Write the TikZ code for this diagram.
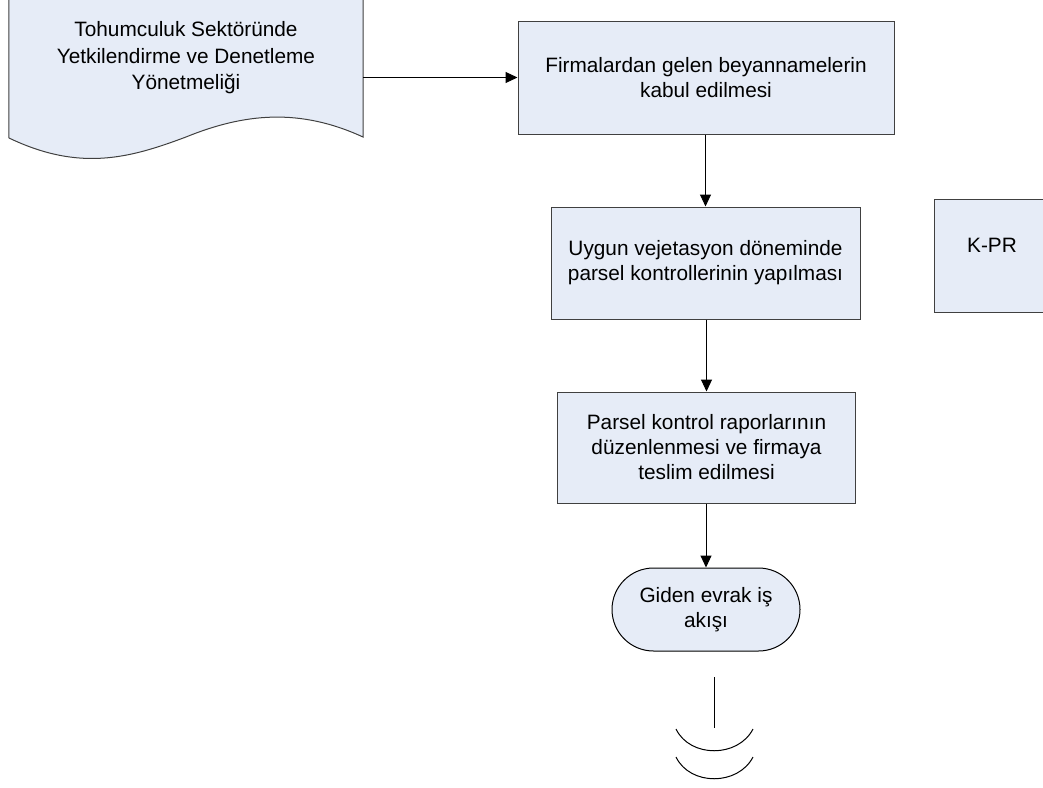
\documentclass[tikz,border=0pt]{standalone}
\usepackage{fontspec}
\setmainfont{Liberation Sans}
\usetikzlibrary{arrows.meta,shapes.misc}
\definecolor{boxfill}{RGB}{230,236,247}
\definecolor{boxline}{RGB}{64,64,64}
\tikzset{
  procbox/.style={draw=boxline, fill=boxfill, line width=1pt, align=center, inner sep=0pt,
    font=\fontsize{20.8}{25}\selectfont},
  termbox/.style={draw=black, fill=boxfill, line width=1pt, rounded rectangle, align=center, inner sep=0pt,
    font=\fontsize{20.8}{25}\selectfont},
  conn/.style={draw=black, line width=1pt, -{Triangle[length=12pt,width=11pt]}},
  plain/.style={draw=black, line width=1pt},
}
\begin{document}
\begin{tikzpicture}[x=1pt,y=-1pt]
\useasboundingbox (0,0) rectangle (1043,787);
\clip (0,0) rectangle (1043,787);
% document shape
\node[minimum width=354pt, minimum height=148pt, inner sep=0pt] (doc) at (186,64) {};
\draw[boxline, fill=boxfill, line width=1pt] (doc.north west) -- (9,138)
  .. controls (80,172) and (130,158) .. (186,137)
  .. controls (245,113) and (300,108) .. (363,137) -- (doc.north east);
\node[align=center, font=\fontsize{20.8}{26.5}\selectfont] (doctext) at (186,58)
  {Tohumculuk Sektöründe\\Yetkilendirme ve Denetleme\\Yönetmeliği};
% process boxes
\node[procbox, minimum width=376pt, minimum height=113pt] (b1) at (706,77.5)
  {Firmalardan gelen beyannamelerin\\kabul edilmesi};
\node[procbox, minimum width=309pt, minimum height=112pt] (b2) at (705.5,263)
  {Uygun vejetasyon döneminde\\parsel kontrollerinin yapılması};
\node[procbox, minimum width=298pt, minimum height=111pt] (b3) at (706.5,447.5)
  {Parsel kontrol raporlarının\\düzenlenmesi ve firmaya\\teslim edilmesi};
\node[termbox, minimum width=188pt, minimum height=83pt] (t) at (706,609.5)
  {Giden evrak iş\\akışı};
% K-PR box
\node[procbox, minimum width=118pt, minimum height=113pt] (kpr) at (993,255.5) {};
\node[font=\fontsize{20.8}{25}\selectfont] (kprtext) at (992,245) {K-PR};
% connectors
\draw[conn] (b1.west -| doc.east) -- (b1.west);
\draw[conn] (b1.south -| b2.north) -- (b2.north);
\draw[conn] (b2.south -| b3.north) -- (b3.north);
\draw[conn] (b3.south -| t.north) -- (t.north);
% off-page connector
\coordinate (o1) at (714,677);
\coordinate (o2) at (714,728);
\draw[plain] (o1) -- (o2);
\draw[plain] (676,729) .. controls (690,758) and (738,758) .. (753,729);
\draw[plain] (676,757) .. controls (690,786) and (738,786) .. (753,757);
\end{tikzpicture}
\end{document}
